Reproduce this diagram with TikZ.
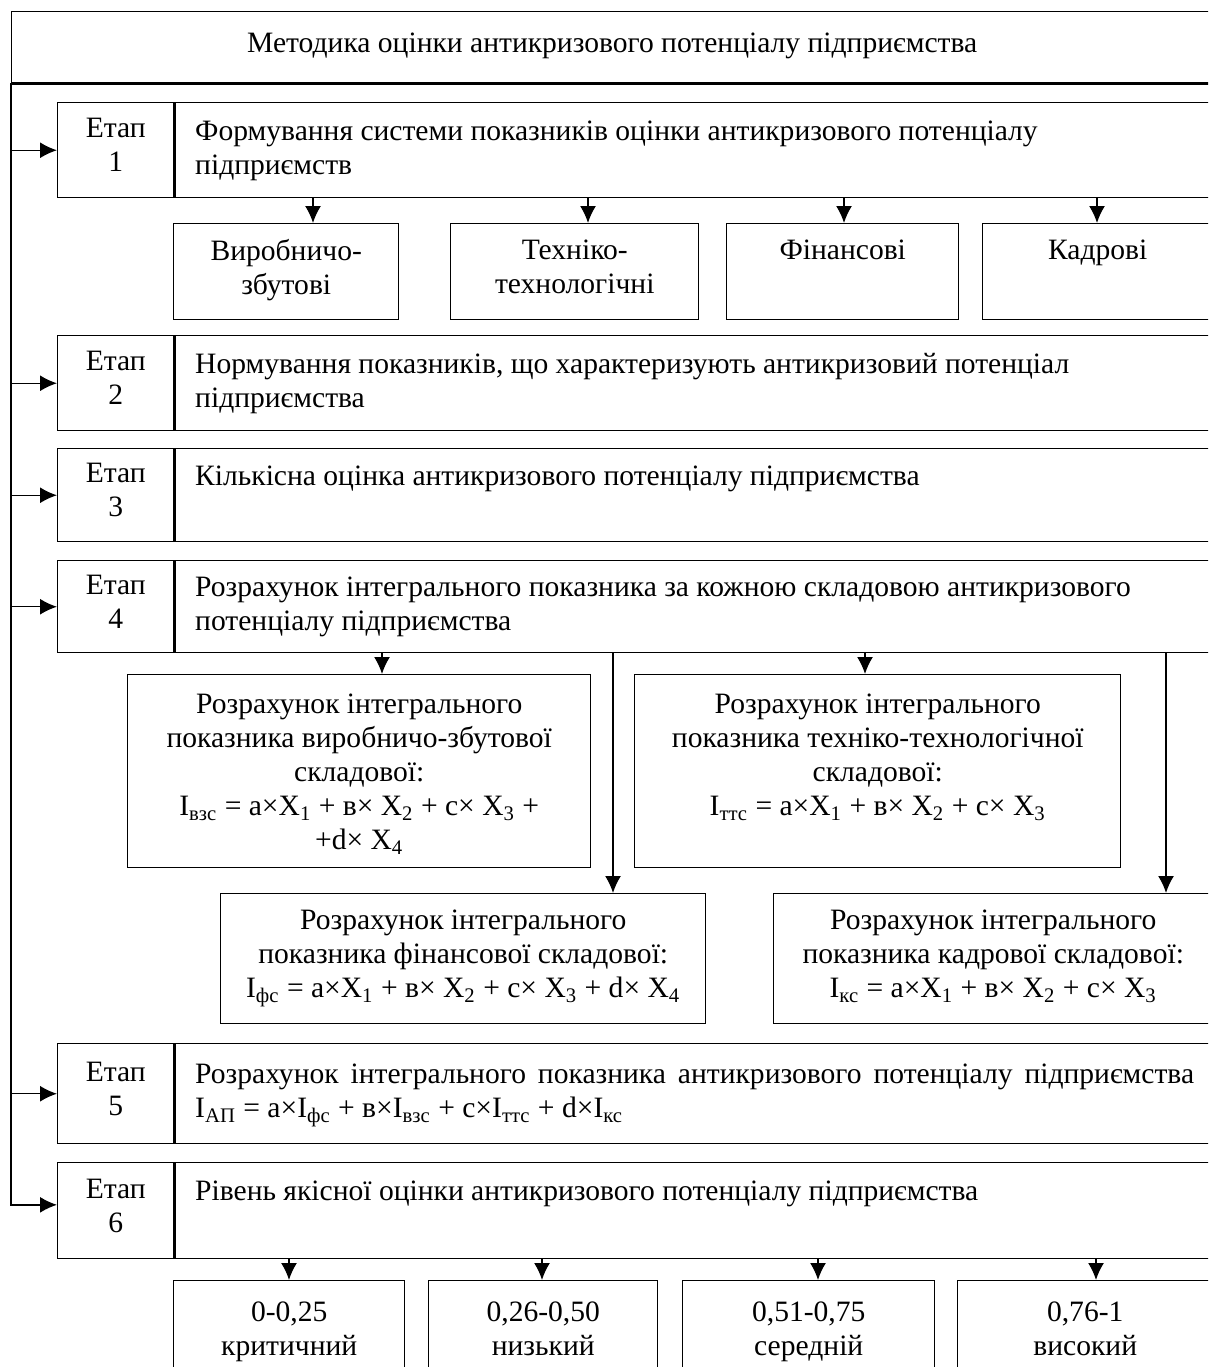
\documentclass[tikz,border=0pt]{standalone}
\usepackage{fontspec}
\setmainfont{Liberation Serif}
\usetikzlibrary{arrows.meta,positioning}
\tikzset{>={Latex[length=8pt,width=7.5pt]}}
\newlength\px
\setlength\px{0.4735pt}
\newcommand\pxl[1]{\the\dimexpr#1\px\relax}

\begin{document}
\begin{tikzpicture}[x=0.4735pt, y=-0.4735pt, line width=0.7pt,
        every node/.append style={font=\fontsize{14}{16.1}\selectfont, inner sep=0pt, anchor=north west,
            execute at begin node=\strut, execute at end node=\strut},
        box/.style={draw, align=center},
        stagecell/.style={box, minimum width=\pxl{116}},
        stagetext/.style={draw, align=flush left, text width=\pxl{999}, inner xsep=\pxl{20}, minimum width=\pxl{1039}}]

    \useasboundingbox (0,0) rectangle (1208,1367);
    \clip (0,0) rectangle (1208,1367);

    \node [box, minimum width=\pxl{1201}, minimum height=\pxl{71}] (title) at (11,11)
        {\rule[-6pt]{0pt}{6pt}Методика оцінки антикризового потенціалу підприємства};

    % stage 1
    \node [stagecell, minimum height=\pxl{95}] (e1) at (57,102) {Етап\\1};
    \node [stagetext, minimum height=\pxl{95}] (t1) at (e1.north east)
        {Формування системи показників оцінки антикризового потенціалу\\підприємств};
    \node [box, minimum width=\pxl{225}, minimum height=\pxl{96}] (vz)  at (173,223) {Виробничо-\\збутові};
    \node [box, minimum width=\pxl{248}, minimum height=\pxl{96}] (tt)  at (450,223) {Техніко-\\технологічні};
    \node [box, minimum width=\pxl{232}, minimum height=\pxl{96}] (fin) at (726,223) {Фінансові\\};
    \node [box, minimum width=\pxl{230}, minimum height=\pxl{96}] (kad) at (982,223) {Кадрові\\};
    \draw[->] (t1.south -| 313,0) -- (vz.north -| 313,0);
    \draw[->] (t1.south -| 588,0) -- (tt.north -| 588,0);
    \draw[->] (t1.south -| 844,0) -- (fin.north -| 844,0);
    \draw[->] (t1.south -| 1097,0) -- (kad.north -| 1097,0);

    % stages 2--4
    \node [stagecell, minimum height=\pxl{95}] (e2) at (57,335) {Етап\\2};
    \node [stagetext, minimum height=\pxl{95}] (t2) at (e2.north east)
        {Нормування показників, що характеризують антикризовий потенціал\\підприємства};
    \node [stagecell, minimum height=\pxl{93}] (e3) at (57,448) {Етап\\3};
    \node [stagetext, minimum height=\pxl{93}] (t3) at (e3.north east)
        {Кількісна оцінка антикризового потенціалу підприємства\\};
    \node [stagecell, minimum height=\pxl{92}] (e4) at (57,560) {Етап\\4};
    \node [stagetext, minimum height=\pxl{92}] (t4) at (e4.north east)
        {Розрахунок інтегрального показника за кожною складовою антикризового\\потенціалу підприємства};

    % integral indicators
    \node [box, minimum width=\pxl{463}, minimum height=\pxl{193}] (ivz) at (127,674)
        {\rule{0pt}{15pt}Розрахунок інтегрального\\показника виробничо-збутової\\складової:\\
         I\textsubscript{взс} = a×X\textsubscript{1} + в× X\textsubscript{2} + c× X\textsubscript{3} +\\
         +d× X\textsubscript{4}};
    \node [box, minimum width=\pxl{486}, minimum height=\pxl{193}] (itt) at (634,674)
        {\rule{0pt}{15pt}Розрахунок інтегрального\\показника техніко-технологічної\\складової:\\
         I\textsubscript{ттс} = a×X\textsubscript{1} + в× X\textsubscript{2} + c× X\textsubscript{3}\\};
    \node [box, minimum width=\pxl{485}, minimum height=\pxl{130}] (ifin) at (220,893)
        {Розрахунок інтегрального\\показника фінансової складової:\\
         I\textsubscript{фс} = a×X\textsubscript{1} + в× X\textsubscript{2} + c× X\textsubscript{3} + d× X\textsubscript{4}};
    \node [box, minimum width=\pxl{439}, minimum height=\pxl{130}] (ikad) at (773,893)
        {Розрахунок інтегрального\\показника кадрової складової:\\
         I\textsubscript{кс} = a×X\textsubscript{1} + в× X\textsubscript{2} + c× X\textsubscript{3}};
    \draw[->] (t4.south -| 382,0) -- (ivz.north -| 382,0);
    \draw[->] (t4.south -| 613,0) -- (ifin.north -| 613,0);
    \draw[->] (t4.south -| 865,0) -- (itt.north -| 865,0);
    \draw[->] (t4.south -| 1166,0) -- (ikad.north -| 1166,0);

    % stages 5--6
    \node [stagecell, minimum height=\pxl{100}] (e5) at (57,1043) {Етап\\5};
    \node [stagetext, minimum height=\pxl{100}] (t5) at (e5.north east)
        {\makebox[\linewidth][s]{Розрахунок інтегрального показника антикризового потенціалу підприємства}\\
         I\textsubscript{АП} = a×I\textsubscript{фс} + в×I\textsubscript{взс} + c×I\textsubscript{ттс} + d×I\textsubscript{кс}};
    \node [stagecell, minimum height=\pxl{96}] (e6) at (57,1162) {Етап\\6};
    \node [stagetext, minimum height=\pxl{96}] (t6) at (e6.north east)
        {Рівень якісної оцінки антикризового потенціалу підприємства\\};

    % levels
    \node [box, minimum width=\pxl{231}, minimum height=\pxl{106}] (lv1) at (173,1280) {0-0,25\\критичний};
    \node [box, minimum width=\pxl{229}, minimum height=\pxl{106}] (lv2) at (428,1280) {0,26-0,50\\низький};
    \node [box, minimum width=\pxl{252}, minimum height=\pxl{106}] (lv3) at (682,1280) {0,51-0,75\\середній};
    \node [box, minimum width=\pxl{255}, minimum height=\pxl{106}] (lv4) at (957,1280) {0,76-1\\високий};
    \draw[->] (t6.south -| 289,0) -- (lv1.north -| 289,0);
    \draw[->] (t6.south -| 542,0) -- (lv2.north -| 542,0);
    \draw[->] (t6.south -| 818,0) -- (lv3.north -| 818,0);
    \draw[->] (t6.south -| 1096,0) -- (lv4.north -| 1096,0);

    % frame and stage arrows
    \draw[->] (1212,84) -- (11,84) |- ([yshift=2.8pt]e6.west);
    \foreach \s in {e1,e2,e3,e4,e5}
        \draw[->] (11,0 |- \s.west) -- (\s.west);
\end{tikzpicture}
\end{document}
